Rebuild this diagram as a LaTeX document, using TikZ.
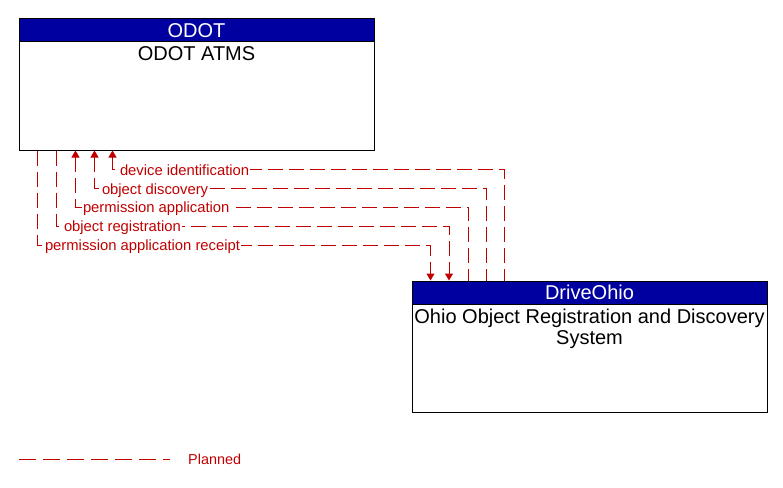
\documentclass[tikz,border=0pt]{standalone}
\usepackage{fontspec}
\setmainfont{Liberation Sans}
\usetikzlibrary{arrows.meta,calc}
\definecolor{flowred}{RGB}{192,0,0}
\definecolor{hdrblue}{RGB}{0,0,160}
\tikzset{
  sysbox/.style={draw=black,line width=1pt,fill=white,minimum width=355pt,minimum height=131pt,inner sep=0pt},
  hdr/.style={draw=black,line width=1pt,fill=hdrblue,text=white,minimum width=355pt,minimum height=23pt,inner sep=0pt,font=\fontsize{20}{22}\selectfont},
  systxt/.style={inner sep=0pt,font=\fontsize{20}{21.5}\selectfont,align=center},
  flow/.style={draw=flowred,line width=1pt,dash pattern=on 15pt off 6pt},
  tip/.style={-{Triangle[width=8pt,length=7pt]}},
  tipback/.style={{Triangle[width=8pt,length=7pt]}-},
  lbl/.style={anchor=base west,fill=white,text=flowred,inner xsep=1pt,inner ysep=1pt,xshift=6pt,yshift=-5.5pt,font=\fontsize{14.8}{16}\selectfont},
}
\begin{document}
\begin{tikzpicture}[x=1pt,y=-1pt]
\useasboundingbox (0,0) rectangle (783,487);
% ODOT box
\node[sysbox] (odot) at (196.5,84.5) {};
\node[hdr,anchor=north] (odoth) at (odot.north) {ODOT};
\node[systxt,anchor=base] (odott) at (196.5,60.5) {ODOT ATMS};
% DriveOhio box
\node[sysbox] (drive) at (589.5,346.5) {};
\node[hdr,anchor=north] (driveh) at (drive.north) {DriveOhio};
\node[systxt,anchor=north] (drivet) at (589.5,308.8) {Ohio Object Registration and Discovery\\System};
% connector end points
\coordinate (o1) at ($(odot.south west)+(94,0)$);
\coordinate (o2) at ($(odot.south west)+(76,0)$);
\coordinate (o3) at ($(odot.south west)+(57,0)$);
\coordinate (o4) at ($(odot.south west)+(38,0)$);
\coordinate (o5) at ($(odot.south west)+(19,0)$);
\coordinate (d1) at ($(drive.north west)+(93,0)$);
\coordinate (d2) at ($(drive.north west)+(75,0)$);
\coordinate (d3) at ($(drive.north west)+(56.5,0)$);
\coordinate (d4) at ($(drive.north west)+(37.5,0)$);
\coordinate (d5) at ($(drive.north west)+(19,0)$);
% connectors
\draw[flow,tipback] (o1) -- (o1 |- 0,169.5) node[lbl] {device identification} -- (d1 |- 0,169.5) -- (d1);
\draw[flow,tipback] (o2) -- (o2 |- 0,188.5) node[lbl] {object discovery} -- (d2 |- 0,188.5) -- (d2);
\draw[flow,tipback] (o3) -- (o3 |- 0,207) node[lbl] {permission application} -- (d3 |- 0,207) -- (d3);
\draw[flow,tip] (o4) -- (o4 |- 0,226) node[lbl] {object registration} -- (d4 |- 0,226) -- (d4);
\draw[flow,tip] (o5) -- (o5 |- 0,245) node[lbl] {permission application receipt} -- (d5 |- 0,245) -- (d5);
% legend
\coordinate (lgA) at (19,459);
\coordinate (lgB) at (170,459);
\draw[flow,dash pattern=on 17pt off 7pt] (lgA) -- (lgB);
\node[anchor=base west,inner sep=0pt,text=flowred,font=\fontsize{14.4}{16}\selectfont] (lgT) at (188,464) {Planned};
\end{tikzpicture}
\end{document}
